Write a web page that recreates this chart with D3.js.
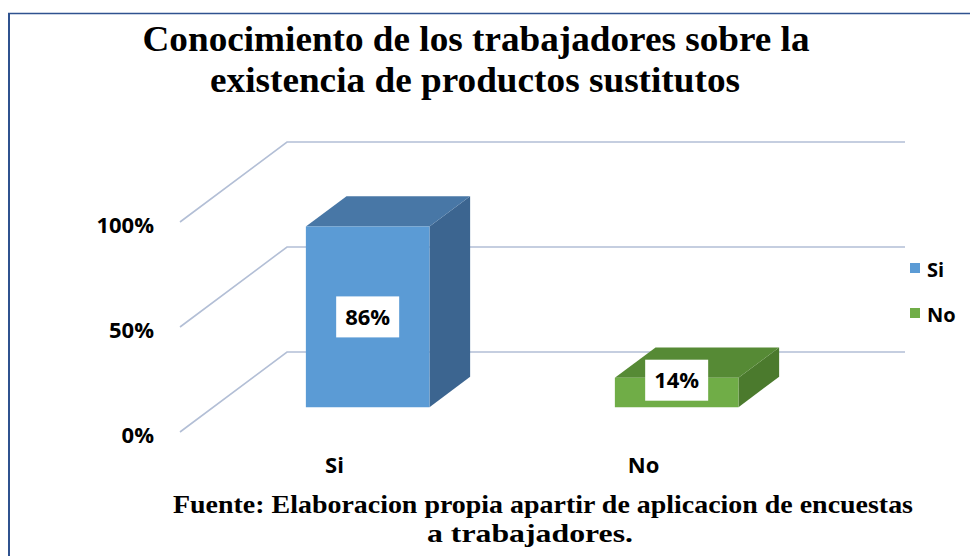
<!DOCTYPE html>
<html>
<head>
<meta charset="utf-8">
<script src="https://cdn.jsdelivr.net/npm/d3@7"></script>
<style>
  body { margin: 0; background: #fff; }
  .title { font-family: "Liberation Serif", "DejaVu Serif", serif; font-weight: bold; }
  .lbl { font-family: "Open Sans", "Noto Sans", sans-serif; font-weight: bold; }
</style>
</head>
<body>
<div id="chart"></div>
<script>
var width = 970
var height = 556

// data
const categories = ["Si", "No"];
const values = [0.86, 0.14];
const valueLabels = ["86%", "14%"];
const yTicks = [0, 0.5, 1];
const yTickLabels = ["0%", "50%", "100%"];
const titleLines = ["Conocimiento de los trabajadores sobre la", "existencia de productos sustitutos"];
const sourceLines = ["Fuente: Elaboracion propia apartir de aplicacion de encuestas", "a trabajadores."];

const colors = {
  Si: {front: "#5b9bd5", top: "#4877a6", side: "#3c6590"},
  No: {front: "#70ad47", top: "#568a35", side: "#4b7a2d"}
};

var svg = d3.select("#chart").append("svg")
    .attr("width", width)
    .attr("height", height)

// frame
svg.append("line")
    .attr("x1", 8).attr("x2", width).attr("y1", 13.5).attr("y2", 13.5)
    .attr("stroke", "#2f528f").attr("stroke-width", 1.5);
svg.append("line")
    .attr("x1", 9).attr("x2", 9).attr("y1", 13).attr("y2", height)
    .attr("stroke", "#2f528f").attr("stroke-width", 2);

// front plane scales + depth vector
const frontLeft = 180, frontRight = 798;
const depth = {dx: 107, dy: -80};
const zFront = 0.31, zBack = 0.69;

const xScale = d3.scaleBand()
    .domain(categories)
    .range([frontLeft, frontRight])
    .paddingInner(0.6)
    .paddingOuter(0.3);

const yScale = d3.scaleLinear()
    .domain([0, 1])
    .range([432, 222]);

const proj = (x, v, z) => [x + z * depth.dx, yScale(v) + z * depth.dy];

// gridlines: side wall diagonal + back wall horizontal
const grid = svg.append("g");
yTicks.forEach(t => {
  const a = proj(frontLeft, t, 0), b = proj(frontLeft, t, 1), c = proj(frontRight, t, 1);
  grid.append("path")
      .attr("d", d3.line()([a, b, c]))
      .attr("fill", "none")
      .attr("stroke", "#b3bfd6")
      .attr("stroke-width", 1.6);
});

// y axis labels
const yAxis = d3.axisLeft(yScale)
    .tickValues(yTicks)
    .tickFormat((d, i) => yTickLabels[i])
    .tickSize(0)
    .tickPadding(26);

const yAxisG = svg.append("g")
    .attr("transform", `translate(${frontLeft}, 3)`)
    .call(yAxis);
yAxisG.select(".domain").remove();
yAxisG.selectAll("text")
    .attr("class", "lbl")
    .style("font-size", "22px")
    .attr("fill", "#000");

// x axis labels
const xAxis = d3.axisBottom(xScale).tickSize(0).tickPadding(0);
const xAxisG = svg.append("g")
    .attr("transform", `translate(0, 473)`)
    .call(xAxis);
xAxisG.select(".domain").remove();
xAxisG.selectAll("text")
    .attr("class", "lbl")
    .attr("dy", 0)
    .style("font-size", "22px")
    .attr("fill", "#000");

// 3d bars
const bars = svg.append("g");
categories.forEach((c, i) => {
  const x0 = xScale(c), x1 = x0 + xScale.bandwidth();
  const v = values[i];
  const col = colors[c];
  const fBL = proj(x0, 0, zFront), fBR = proj(x1, 0, zFront);
  const fTL = proj(x0, v, zFront), fTR = proj(x1, v, zFront);
  const bBR = proj(x1, 0, zBack), bTL = proj(x0, v, zBack), bTR = proj(x1, v, zBack);
  const poly = pts => "M" + pts.map(p => p.join(",")).join("L") + "Z";

  bars.append("path").attr("d", poly([fTR, bTR, bBR, fBR])).attr("fill", col.side);
  bars.append("path").attr("d", poly([fTL, bTL, bTR, fTR])).attr("fill", col.top);
  bars.append("path").attr("d", poly([fBL, fTL, fTR, fBR])).attr("fill", col.front);

  // value label in white box
  const cx = (x0 + x1) / 2 + zFront * depth.dx;
  const cy = Math.min((fTL[1] + fBL[1]) / 2, fBL[1] - 27);
  bars.append("rect")
      .attr("x", cx - 31.5).attr("y", cy - 20.5)
      .attr("width", 63).attr("height", 41)
      .attr("fill", "#fff");
  bars.append("text")
      .attr("class", "lbl")
      .attr("x", cx).attr("y", cy)
      .attr("dy", "0.36em")
      .attr("text-anchor", "middle")
      .style("font-size", "22px")
      .text(valueLabels[i]);
});

// legend
const legend = svg.append("g").attr("transform", "translate(910, 263)");
categories.forEach((c, i) => {
  const row = legend.append("g").attr("transform", `translate(0, ${i * 45})`);
  row.append("rect").attr("width", 10).attr("height", 10).attr("fill", colors[c].front);
  row.append("text")
      .attr("class", "lbl")
      .attr("x", 17).attr("y", 13.5)
      .style("font-size", "20px")
      .text(c);
});

// title
const tt = svg.append("g");
[[476, 51, 667], [475, 92, 530]].forEach((p, i) => {
  tt.append("text")
      .attr("class", "title")
      .attr("x", p[0]).attr("y", p[1])
      .attr("text-anchor", "middle")
      .attr("textLength", p[2])
      .attr("lengthAdjust", "spacingAndGlyphs")
      .style("font-size", "35px")
      .text(titleLines[i]);
});

// source note
[[543, 513, 740], [530, 542, 206]].forEach((p, i) => {
  svg.append("text")
      .attr("class", "title")
      .attr("x", p[0]).attr("y", p[1])
      .attr("text-anchor", "middle")
      .attr("textLength", p[2])
      .attr("lengthAdjust", "spacingAndGlyphs")
      .style("font-size", "26px")
      .text(sourceLines[i]);
});
</script>
</body>
</html>
